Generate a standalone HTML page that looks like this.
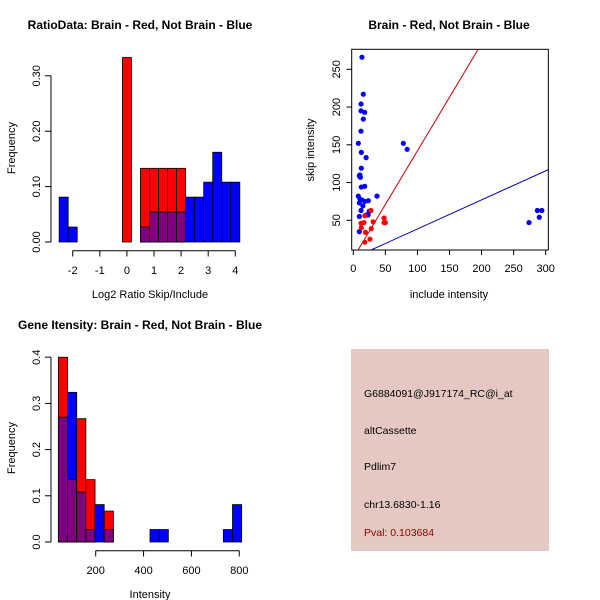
<!DOCTYPE html>
<html><head><meta charset="utf-8"><style>
body{margin:0;background:#fff}
svg{display:block;font-family:"Liberation Sans",sans-serif}
</style></head><body>
<svg id="c" width="600" height="600" viewBox="0 0 600 600"></svg>
<script>
// Ratio histogram (bin width 1/3 starting at -2.5)
const ratioBinStart = -2.5;
const ratioBinWidth = 1/3;
const ratioRed = [0,0,0,0,0,0,0,0.333,0,0.133,0.133,0.133,0.133,0.133,0,0,0,0,0,0];
const ratioBlue = [0.081,0.027,0,0,0,0,0,0,0,0.027,0.054,0.054,0.054,0.054,0.081,0.081,0.108,0.162,0.108,0.108];
const ratioXTicks = [-2,-1,0,1,2,3,4];
const ratioYTicks = ["0.00","0.10","0.20","0.30"];
// Scatter
const brainPts = [[27.5,63],[18,56],[31,48],[16.6,47],[12,46],[48,53],[50,47],[48,47],[28,39],[12.5,40],[19,34],[26,25],[18,21]];
const notBrainPts = [[13.5,266],[15.6,217],[12,204],[12,195],[17.7,193],[15.6,184],[12,168],[7.8,152],[12.5,140],[20,133],[12.5,119],[10.4,110],[9.4,109],[11,107],[12.5,94],[17.7,95],[7.8,82],[37,82],[10.4,78],[13.5,77],[9.4,73],[23.4,76],[18,75],[15,69],[12,63],[25,62],[20,57],[23,57],[9.4,55],[9.4,35],[78,152],[84,144],[274,47],[287,63],[294,63],[290,54]];
const redSlope = 1.42;
const blueSlope = 0.385;
const scatterXTicks = [0,50,100,150,200,250,300];
const scatterYTicks = [50,100,150,200,250];
// Intensity histogram (bin width ~38.3 starting at 44)
const intBinStart = 44;
const intBinWidth = 38.3;
const intRed = [0.4,0.135,0.267,0.135,0,0.067,0,0,0,0,0,0,0,0,0,0,0,0,0,0];
const intBlue = [0.27,0.324,0.108,0.027,0.081,0.027,0,0,0,0,0.027,0.027,0,0,0,0,0,0,0.027,0.081];
const intXTicks = [200,400,600,800];
const intYTicks = ["0.0","0.1","0.2","0.3","0.4"];

const svg = document.getElementById('c');
const NS = 'http://www.w3.org/2000/svg';
function mk(tag, attrs, parent){const e=document.createElementNS(NS,tag);for(const k in attrs)e.setAttribute(k,attrs[k]);(parent||svg).appendChild(e);return e;}
function txt(s,x,y,attrs,name){const e=mk('text',Object.assign({x:x,y:y,'font-size':11,'text-anchor':'middle',fill:'#000'},attrs||{}));e.textContent=s;


return e;}

function histogram(g, reds, blues, start, width, xs, ys){
  for(let i=0;i<reds.length;i++){
    const x0=xs(start+i*width), x1=xs(start+(i+1)*width);
    const r=reds[i], b=blues[i], m=Math.min(r,b);
    if(r>0){const e=mk('rect',{x:x0,y:ys(r),width:x1-x0,height:ys(0)-ys(r),fill:'#ff0000',stroke:'#000','stroke-width':0.8},g);
      
      }
    if(b>0){const e=mk('rect',{x:x0,y:ys(b),width:x1-x0,height:ys(0)-ys(b),fill:'#0000ff',stroke:'#000','stroke-width':0.8},g);
      
      }
    if(m>0){const e=mk('rect',{x:x0,y:ys(m),width:x1-x0,height:ys(0)-ys(m),fill:'#7f007f',stroke:'#000','stroke-width':0.8},g);
      
      }
  }
}

// Panel 1
(function(){
  const g=mk('g',{});
  
  
  const xs=v=>126.9+v*27.1, ys=v=>242-v*554;
  txt('RatioData: Brain - Red, Not Brain - Blue',140,29,{'font-weight':'bold','font-size':12},'ratio-title');
  histogram(g,ratioRed,ratioBlue,ratioBinStart,ratioBinWidth,xs,ys);
  mk('line',{x1:51,y1:ys(0),x2:51,y2:ys(0.3),stroke:'#000'});
  ratioYTicks.forEach(t=>{const y=ys(+t);mk('line',{x1:45,y1:y,x2:51,y2:y,stroke:'#000'});txt(t,37,y,{transform:`rotate(-90 37 ${y})`,'dominant-baseline':'middle'},'ratio-y-tick');});
  mk('line',{x1:xs(-2),y1:250.7,x2:xs(4),y2:250.7,stroke:'#000'});
  ratioXTicks.forEach(t=>{const x=xs(t);mk('line',{x1:x,y1:250.7,x2:x,y2:256.5,stroke:'#000'});txt(String(t),x,274,{},'ratio-x-tick');});
  txt('Log2 Ratio Skip/Include',150,298,{},'ratio-x-title');
  txt('Frequency',12,148,{transform:'rotate(-90 12 148)','dominant-baseline':'middle'},'ratio-y-title');
})();

// Panel 2
(function(){
  const g=mk('g',{});
  
  
  const xs=v=>353.3+v*0.6413, ys=v=>220.3-(v-50)*0.755;
  txt('Brain - Red, Not Brain - Blue',449,29,{'font-weight':'bold','font-size':12},'scatter-title');
  const cp=mk('clipPath',{id:'cp'});
  mk('rect',{x:351.7,y:49.3,width:196.6,height:200.7},cp);
  const lg=mk('g',{'clip-path':'url(#cp)'},g);
  const rl=mk('line',{x1:xs(0),y1:ys(0),x2:xs(320),y2:ys(320*redSlope),stroke:'#cc0000','stroke-width':1},lg);
  
  
  const bl=mk('line',{x1:xs(0),y1:ys(0),x2:xs(320),y2:ys(320*blueSlope),stroke:'#0000aa','stroke-width':1},lg);
  
  
  notBrainPts.forEach(p=>{const c=mk('circle',{cx:xs(p[0]),cy:ys(p[1]),r:2.6,fill:'#0000ff'},lg);
    
    });
  brainPts.forEach(p=>{const c=mk('circle',{cx:xs(p[0]),cy:ys(p[1]),r:2.6,fill:'#ff0000'},lg);
    
    });
  mk('rect',{x:351.7,y:49.3,width:196.6,height:200.7,fill:'none',stroke:'#000'},g);
  scatterXTicks.forEach(t=>{const x=xs(t);mk('line',{x1:x,y1:250,x2:x,y2:255,stroke:'#000'});txt(String(t),x,272,{},'scatter-x-tick');});
  scatterYTicks.forEach(t=>{const y=ys(t);mk('line',{x1:346.5,y1:y,x2:351.7,y2:y,stroke:'#000'});txt(String(t),337,y,{transform:`rotate(-90 337 ${y})`,'dominant-baseline':'middle'},'scatter-y-tick');});
  txt('include intensity',449,298,{},'scatter-x-title');
  txt('skip intensity',311,150,{transform:'rotate(-90 311 150)','dominant-baseline':'middle'},'scatter-y-title');
})();

// Panel 3
(function(){
  const g=mk('g',{});
  
  
  const xs=v=>95.7+(v-200)*0.2393, ys=v=>542-v*462;
  txt('Gene Itensity: Brain - Red, Not Brain - Blue',140,329,{'font-weight':'bold','font-size':12},'intensity-title');
  histogram(g,intRed,intBlue,intBinStart,intBinWidth,xs,ys);
  mk('line',{x1:51,y1:ys(0),x2:51,y2:ys(0.4),stroke:'#000'});
  intYTicks.forEach(t=>{const y=ys(+t);mk('line',{x1:45,y1:y,x2:51,y2:y,stroke:'#000'});txt(t,37,y,{transform:`rotate(-90 37 ${y})`,'dominant-baseline':'middle'},'intensity-y-tick');});
  mk('line',{x1:xs(200),y1:550.7,x2:xs(800),y2:550.7,stroke:'#000'});
  intXTicks.forEach(t=>{const x=xs(t);mk('line',{x1:x,y1:550.7,x2:x,y2:556.5,stroke:'#000'});txt(String(t),x,574,{},'intensity-x-tick');});
  txt('Intensity',150,598,{},'intensity-x-title');
  txt('Frequency',12,448,{transform:'rotate(-90 12 448)','dominant-baseline':'middle'},'intensity-y-title');
})();

// Panel 4
(function(){
  const r=mk('rect',{x:351,y:349,width:198,height:202,fill:'#e6c8c2'});
  
  
  const lines=[['G6884091@J917174_RC@i_at',397,'#000','probe-id'],['altCassette',434,'#000','event-type'],['Pdlim7',470,'#000','gene-name'],['chr13.6830-1.16',508,'#000','location'],['Pval: 0.103684',536,'#8b0000','p-value']];
  lines.forEach(l=>txt(l[0],364,l[1],{'text-anchor':'start',fill:l[2],'font-size':10.5},l[3]));
})();
</script>
</body></html>
